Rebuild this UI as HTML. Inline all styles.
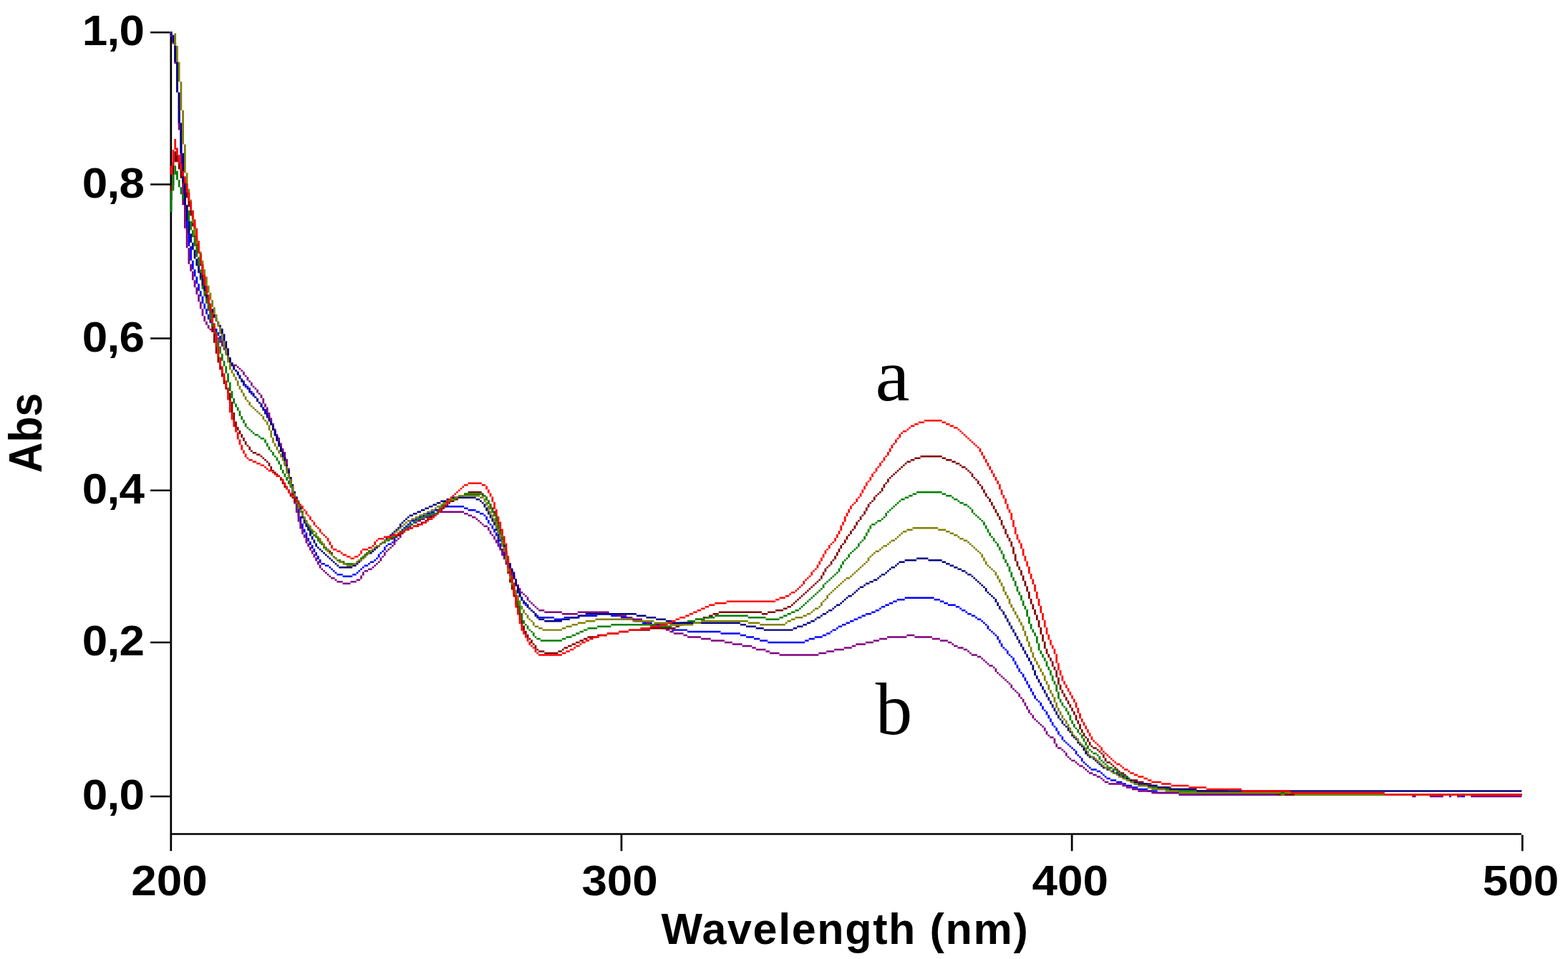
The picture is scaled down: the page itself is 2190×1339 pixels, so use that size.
<!DOCTYPE html>
<html lang="en">
<head>
<meta charset="utf-8">
<title>UV-Vis absorption spectra</title>
<style>
html,body{margin:0;padding:0;background:#fff;}
body{width:2190px;height:1339px;overflow:hidden;}
svg{display:block;}
text{fill:#000;}
.tk,.tkx,.lab,.abs{font-family:"Liberation Sans",sans-serif;font-weight:bold;}
.tk{font-size:60px;letter-spacing:-0.6px;}
.tkx{font-size:60px;letter-spacing:0px;}
.lab{font-size:61px;letter-spacing:1.65px;}
.abs{font-size:61px;letter-spacing:0px;}
.ser{font-family:"Liberation Serif",serif;font-size:103px;}
</style>
</head>
<body>
<svg width="2190" height="1339" viewBox="0 0 2190 1339">
<rect x="0" y="0" width="2190" height="1339" fill="#ffffff"/>

<g transform="translate(237.43,44.0) scale(2.7355,2.49813)">
<path fill="#000000" d="M0 1h1v457h-1zM1 448h689v1h-689zM230 449h1v9h-1zM460 449h1v9h-1zM690 449h1v9h-1zM-10 0h10v1h-10zM-10 85h10v1h-10zM-10 171h10v1h-10zM-10 256h10v1h-10zM-10 341h10v1h-10zM-10 427h10v1h-10z"/>
</g>
<g transform="translate(237.83,44.0) scale(2.7355,2.49813)">
<path fill="#0000ff" d="M0 1h1v1h-1zM1 2h1v4h-1zM2 6h1v11h-1zM3 17h1v17h-1zM4 34h1v18h-1zM5 52h1v17h-1zM6 69h1v16h-1zM7 85h1v15h-1zM8 100h1v11h-1zM9 111h1v9h-1zM10 120h1v8h-1zM11 128h1v5h-1zM12 133h1v4h-1zM13 137h1v4h-1zM14 141h1v4h-1zM15 145h1v3h-1zM16 148h1v4h-1zM17 152h1v3h-1zM18 155h1v3h-1zM19 158h1v3h-1zM20 161h1v2h-1zM21 163h1v2h-1zM22 165h1v1h-1zM23 166h1v2h-1zM24 168h1v2h-1zM25 170h1v2h-1zM26 172h1v2h-1zM27 174h1v2h-1zM28 176h1v4h-1zM29 180h1v3h-1zM30 183h1v2h-1zM31 185h1v2h-1zM32 187h1v2h-1zM33 189h1v1h-1zM34 190h1v2h-1zM35 192h1v2h-1zM36 194h1v1h-1zM37 195h1v2h-1zM38 197h1v1h-1zM39 198h1v1h-1zM40 199h1v2h-1zM41 201h1v1h-1zM42 202h1v2h-1zM43 204h1v1h-1zM44 205h1v2h-1zM45 207h1v1h-1zM46 208h1v2h-1zM47 210h1v1h-1zM48 211h1v2h-1zM49 213h1v2h-1zM50 215h1v2h-1zM51 217h1v3h-1zM52 220h1v3h-1zM53 223h1v3h-1zM54 226h1v3h-1zM55 229h1v3h-1zM56 232h1v3h-1zM57 235h1v3h-1zM58 238h1v4h-1zM59 242h1v3h-1zM60 245h1v4h-1zM61 249h1v5h-1zM62 254h1v5h-1zM63 259h1v4h-1zM64 263h1v4h-1zM65 267h1v4h-1zM66 271h1v4h-1zM67 275h1v3h-1zM68 278h1v2h-1zM69 280h1v3h-1zM70 283h1v2h-1zM71 285h1v2h-1zM72 287h1v2h-1zM73 289h1v2h-1zM74 291h1v2h-1zM75 293h1v2h-1zM76 295h1v2h-1zM77 297h2v1h-2zM79 298h2v1h-2zM81 299h1v1h-1zM82 300h1v1h-1zM83 301h1v1h-1zM84 302h1v1h-1zM85 303h3v1h-3zM88 304h5v1h-5zM93 303h2v1h-2zM95 302h1v1h-1zM96 301h1v1h-1zM97 300h1v1h-1zM98 299h1v1h-1zM99 298h2v1h-2zM101 297h1v1h-1zM102 296h2v1h-2zM104 295h1v1h-1zM105 294h1v1h-1zM106 292h1v2h-1zM107 291h1v1h-1zM108 290h1v1h-1zM109 288h1v2h-1zM110 287h1v1h-1zM111 286h2v1h-2zM113 285h1v1h-1zM114 283h1v2h-1zM115 282h1v1h-1zM116 281h1v1h-1zM117 279h1v2h-1zM118 278h1v1h-1zM119 277h1v1h-1zM120 276h1v1h-1zM121 275h1v1h-1zM122 274h1v1h-1zM123 273h2v1h-2zM125 272h1v1h-1zM126 271h2v1h-2zM128 270h2v1h-2zM130 269h3v1h-3zM133 268h2v1h-2zM135 267h3v1h-3zM138 266h2v1h-2zM140 265h10v1h-10zM150 266h2v1h-2zM152 267h4v1h-4zM156 268h2v1h-2zM158 269h2v1h-2zM160 270h1v1h-1zM161 271h1v2h-1zM162 273h1v2h-1zM163 275h1v1h-1zM164 276h1v2h-1zM165 278h1v2h-1zM166 280h1v2h-1zM167 282h1v4h-1zM168 286h1v3h-1zM169 289h1v2h-1zM170 291h1v2h-1zM171 293h1v2h-1zM172 295h1v3h-1zM173 298h1v3h-1zM174 301h1v3h-1zM175 304h1v2h-1zM176 306h1v3h-1zM177 309h1v4h-1zM178 313h1v3h-1zM179 316h1v2h-1zM180 318h1v2h-1zM181 320h1v1h-1zM182 321h1v1h-1zM183 322h1v1h-1zM184 323h1v1h-1zM185 324h1v1h-1zM186 325h1v1h-1zM187 326h1v1h-1zM188 327h8v1h-8zM196 328h5v1h-5zM201 327h8v1h-8zM209 326h9v1h-9zM218 325h7v1h-7zM225 326h5v1h-5zM230 327h4v1h-4zM234 328h3v1h-3zM237 329h4v1h-4zM241 330h5v1h-5zM246 331h4v1h-4zM250 332h3v1h-3zM253 333h3v1h-3zM256 334h8v1h-8zM264 335h17v1h-17zM281 336h10v1h-10zM291 337h3v1h-3zM294 338h4v1h-4zM298 339h3v1h-3zM301 340h4v1h-4zM305 341h19v1h-19zM324 340h2v1h-2zM326 339h3v1h-3zM329 338h4v1h-4zM333 337h2v1h-2zM335 336h2v1h-2zM337 335h1v1h-1zM338 334h2v1h-2zM340 333h1v1h-1zM341 332h2v1h-2zM343 331h2v1h-2zM345 330h2v1h-2zM347 329h2v1h-2zM349 328h2v1h-2zM351 327h2v1h-2zM353 326h2v1h-2zM355 325h3v1h-3zM358 324h2v1h-2zM360 323h2v1h-2zM362 322h1v1h-1zM363 321h2v1h-2zM365 320h2v1h-2zM367 319h2v1h-2zM369 318h2v1h-2zM371 317h4v1h-4zM375 316h15v1h-15zM390 317h3v1h-3zM393 318h2v1h-2zM395 319h2v1h-2zM397 320h4v1h-4zM401 321h2v1h-2zM403 322h1v1h-1zM404 323h2v1h-2zM406 324h1v1h-1zM407 325h2v1h-2zM409 326h2v1h-2zM411 327h1v1h-1zM412 328h2v1h-2zM414 329h1v1h-1zM415 330h1v1h-1zM416 331h1v1h-1zM417 332h1v2h-1zM418 334h1v1h-1zM419 335h1v1h-1zM420 336h1v1h-1zM421 337h1v1h-1zM422 338h1v2h-1zM423 340h1v2h-1zM424 342h1v2h-1zM425 344h1v1h-1zM426 345h1v1h-1zM427 346h1v2h-1zM428 348h1v1h-1zM429 349h1v1h-1zM430 350h1v2h-1zM431 352h1v2h-1zM432 354h1v2h-1zM433 356h1v2h-1zM434 358h1v1h-1zM435 359h1v2h-1zM436 361h1v2h-1zM437 363h1v2h-1zM438 365h1v2h-1zM439 367h1v2h-1zM440 369h1v2h-1zM441 371h1v2h-1zM442 373h1v1h-1zM443 374h1v1h-1zM444 375h1v2h-1zM445 377h1v2h-1zM446 379h1v1h-1zM447 380h1v2h-1zM448 382h1v2h-1zM449 384h1v2h-1zM450 386h1v2h-1zM451 388h1v1h-1zM452 389h1v2h-1zM453 391h1v2h-1zM454 393h1v1h-1zM455 394h1v2h-1zM456 396h1v1h-1zM457 397h1v1h-1zM458 398h1v1h-1zM459 399h1v1h-1zM460 400h1v1h-1zM461 401h1v1h-1zM462 402h1v2h-1zM463 404h1v1h-1zM464 405h1v1h-1zM465 406h1v2h-1zM466 408h1v1h-1zM467 409h1v1h-1zM468 410h1v1h-1zM469 411h1v1h-1zM470 412h3v1h-3zM473 413h2v1h-2zM475 414h1v1h-1zM476 415h1v1h-1zM477 416h1v1h-1zM478 417h2v1h-2zM480 418h3v1h-3zM483 419h3v1h-3zM486 420h2v1h-2zM488 421h3v1h-3zM491 422h3v1h-3zM494 423h5v1h-5zM499 424h5v1h-5zM504 425h11v1h-11zM515 426h138v1h-138zM653 427h1v1h-1zM654 426h5v1h-5zM659 427h2v1h-2zM661 426h29v1h-29z"/>
<path fill="#800080" d="M0 1h1v2h-1zM1 3h1v4h-1zM2 7h1v11h-1zM3 18h1v16h-1zM4 34h1v21h-1zM5 55h1v23h-1zM6 78h1v19h-1zM7 97h1v13h-1zM8 110h1v11h-1zM9 121h1v9h-1zM10 130h1v4h-1zM11 134h1v5h-1zM12 139h1v4h-1zM13 143h1v4h-1zM14 147h1v4h-1zM15 151h1v4h-1zM16 155h1v4h-1zM17 159h1v3h-1zM18 162h1v2h-1zM19 164h1v2h-1zM20 166h1v1h-1zM21 167h1v1h-1zM22 168h1v2h-1zM23 170h1v1h-1zM24 171h1v1h-1zM25 172h1v2h-1zM26 174h1v2h-1zM27 176h1v2h-1zM28 178h1v2h-1zM29 180h1v3h-1zM30 183h1v2h-1zM31 185h1v1h-1zM32 186h2v1h-2zM34 187h1v1h-1zM35 188h1v1h-1zM36 189h1v1h-1zM37 190h1v2h-1zM38 192h1v1h-1zM39 193h1v2h-1zM40 195h1v1h-1zM41 196h1v2h-1zM42 198h1v1h-1zM43 199h1v1h-1zM44 200h1v2h-1zM45 202h1v1h-1zM46 203h1v2h-1zM47 205h1v3h-1zM48 208h1v2h-1zM49 210h1v3h-1zM50 213h1v3h-1zM51 216h1v3h-1zM52 219h1v3h-1zM53 222h1v3h-1zM54 225h1v2h-1zM55 227h1v3h-1zM56 230h1v3h-1zM57 233h1v2h-1zM58 235h1v4h-1zM59 239h1v5h-1zM60 244h1v5h-1zM61 249h1v5h-1zM62 254h1v5h-1zM63 259h1v5h-1zM64 264h1v5h-1zM65 269h1v5h-1zM66 274h1v4h-1zM67 278h1v3h-1zM68 281h1v2h-1zM69 283h1v3h-1zM70 286h1v2h-1zM71 288h1v2h-1zM72 290h1v2h-1zM73 292h1v2h-1zM74 294h1v2h-1zM75 296h1v2h-1zM76 298h1v2h-1zM77 300h1v1h-1zM78 301h1v1h-1zM79 302h1v1h-1zM80 303h1v1h-1zM81 304h1v1h-1zM82 305h2v1h-2zM84 306h1v1h-1zM85 307h3v1h-3zM88 308h4v1h-4zM92 307h3v1h-3zM95 306h2v1h-2zM97 304h1v2h-1zM98 302h1v2h-1zM99 301h2v1h-2zM101 300h2v1h-2zM103 299h1v1h-1zM104 298h1v1h-1zM105 297h1v1h-1zM106 296h1v1h-1zM107 294h1v2h-1zM108 293h1v1h-1zM109 291h1v2h-1zM110 290h1v1h-1zM111 289h1v1h-1zM112 288h1v1h-1zM113 287h1v1h-1zM114 285h1v2h-1zM115 284h1v1h-1zM116 283h1v1h-1zM117 281h1v2h-1zM118 280h1v1h-1zM119 279h1v1h-1zM120 278h1v1h-1zM121 277h1v1h-1zM122 276h1v1h-1zM123 275h1v1h-1zM124 274h2v1h-2zM126 273h2v1h-2zM128 272h2v1h-2zM130 271h2v1h-2zM132 270h2v1h-2zM134 269h3v1h-3zM137 268h13v1h-13zM150 269h2v1h-2zM152 270h2v1h-2zM154 271h2v1h-2zM156 272h1v1h-1zM157 273h1v1h-1zM158 274h1v1h-1zM159 275h1v1h-1zM160 276h2v1h-2zM162 277h1v2h-1zM163 279h1v2h-1zM164 281h1v1h-1zM165 282h1v2h-1zM166 284h1v2h-1zM167 286h1v2h-1zM168 288h1v2h-1zM169 290h1v3h-1zM170 293h1v2h-1zM171 295h1v3h-1zM172 298h1v2h-1zM173 300h1v2h-1zM174 302h1v2h-1zM175 304h1v2h-1zM176 306h1v3h-1zM177 309h1v2h-1zM178 311h1v2h-1zM179 313h1v1h-1zM180 314h1v1h-1zM181 315h1v1h-1zM182 316h1v2h-1zM183 318h1v1h-1zM184 319h1v1h-1zM185 320h1v1h-1zM186 321h1v1h-1zM187 322h1v1h-1zM188 323h3v1h-3zM191 324h9v1h-9zM200 325h8v1h-8zM208 324h16v1h-16zM224 325h4v1h-4zM228 326h5v1h-5zM233 327h3v1h-3zM236 328h5v1h-5zM241 329h2v1h-2zM243 330h2v1h-2zM245 331h4v1h-4zM249 332h2v1h-2zM251 333h2v1h-2zM253 334h2v1h-2zM255 335h2v1h-2zM257 336h5v1h-5zM262 337h2v1h-2zM264 338h7v1h-7zM271 339h5v1h-5zM276 340h7v1h-7zM283 341h4v1h-4zM287 342h5v1h-5zM292 343h5v1h-5zM297 344h2v1h-2zM299 345h5v1h-5zM304 346h2v1h-2zM306 347h5v1h-5zM311 348h20v1h-20zM331 347h4v1h-4zM335 346h4v1h-4zM339 345h5v1h-5zM344 344h4v1h-4zM348 343h2v1h-2zM350 342h5v1h-5zM355 341h4v1h-4zM359 340h3v1h-3zM362 339h4v1h-4zM366 338h10v1h-10zM376 337h4v1h-4zM380 338h9v1h-9zM389 339h4v1h-4zM393 340h4v1h-4zM397 341h2v1h-2zM399 342h1v1h-1zM400 343h2v1h-2zM402 344h3v1h-3zM405 345h2v1h-2zM407 346h1v1h-1zM408 347h1v1h-1zM409 348h3v1h-3zM412 349h2v1h-2zM414 350h1v1h-1zM415 351h1v1h-1zM416 352h1v1h-1zM417 353h1v1h-1zM418 354h2v1h-2zM420 355h1v1h-1zM421 356h1v2h-1zM422 358h1v1h-1zM423 359h1v1h-1zM424 360h1v1h-1zM425 361h1v1h-1zM426 362h1v1h-1zM427 363h1v1h-1zM428 364h1v1h-1zM429 365h1v2h-1zM430 367h1v1h-1zM431 368h1v1h-1zM432 369h1v1h-1zM433 370h1v2h-1zM434 372h1v1h-1zM435 373h1v2h-1zM436 375h1v2h-1zM437 377h1v2h-1zM438 379h1v2h-1zM439 381h1v1h-1zM440 382h1v2h-1zM441 384h1v1h-1zM442 385h1v1h-1zM443 386h1v1h-1zM444 387h1v1h-1zM445 388h1v1h-1zM446 389h1v2h-1zM447 391h1v2h-1zM448 393h1v1h-1zM449 394h2v1h-2zM451 395h1v3h-1zM452 398h1v2h-1zM453 400h2v1h-2zM455 401h1v1h-1zM456 402h1v1h-1zM457 403h1v2h-1zM458 405h1v1h-1zM459 406h1v1h-1zM460 407h2v1h-2zM462 408h1v1h-1zM463 409h1v1h-1zM464 410h2v1h-2zM466 411h1v1h-1zM467 412h1v1h-1zM468 413h1v1h-1zM469 414h2v1h-2zM471 415h2v1h-2zM473 416h2v1h-2zM475 417h1v1h-1zM476 418h1v1h-1zM477 419h2v1h-2zM479 420h7v1h-7zM486 421h2v1h-2zM488 422h3v1h-3zM491 423h3v1h-3zM494 424h7v1h-7zM501 425h14v1h-14zM515 426h119v1h-119zM634 427h2v1h-2zM636 426h7v1h-7zM643 427h7v1h-7zM650 426h7v1h-7zM657 427h2v1h-2zM659 426h5v1h-5zM664 427h26v1h-26z"/>
<path fill="#800000" d="M0 86h1v8h-1zM1 73h1v13h-1zM2 67h1v6h-1zM3 69h1v4h-1zM4 73h1v4h-1zM5 77h1v5h-1zM6 82h1v3h-1zM7 85h1v3h-1zM8 88h1v5h-1zM9 93h1v5h-1zM10 98h1v5h-1zM11 103h1v6h-1zM12 109h1v6h-1zM13 115h1v5h-1zM14 120h1v4h-1zM15 124h1v7h-1zM16 131h1v8h-1zM17 139h1v6h-1zM18 145h1v6h-1zM19 151h1v5h-1zM20 156h1v6h-1zM21 162h1v6h-1zM22 168h1v6h-1zM23 174h1v6h-1zM24 180h1v5h-1zM25 185h1v4h-1zM26 189h1v4h-1zM27 193h1v4h-1zM28 197h1v3h-1zM29 200h1v2h-1zM30 202h1v5h-1zM31 207h1v6h-1zM32 213h1v5h-1zM33 218h1v3h-1zM34 221h1v2h-1zM35 223h1v2h-1zM36 225h1v2h-1zM37 227h1v2h-1zM38 229h1v2h-1zM39 231h1v1h-1zM40 232h1v2h-1zM41 234h1v1h-1zM42 235h2v1h-2zM44 236h2v1h-2zM46 237h1v1h-1zM47 238h1v1h-1zM48 239h1v1h-1zM49 240h1v1h-1zM50 241h1v2h-1zM51 243h1v2h-1zM52 245h1v1h-1zM53 246h1v1h-1zM54 247h1v1h-1zM55 248h1v1h-1zM56 249h1v2h-1zM57 251h1v2h-1zM58 253h1v2h-1zM59 255h1v1h-1zM60 256h1v2h-1zM61 258h1v2h-1zM62 260h1v1h-1zM63 261h1v2h-1zM64 263h1v1h-1zM65 264h1v2h-1zM66 266h1v2h-1zM67 268h1v4h-1zM68 272h1v2h-1zM69 274h1v2h-1zM70 276h1v2h-1zM71 278h1v1h-1zM72 279h1v2h-1zM73 281h1v1h-1zM74 282h1v1h-1zM75 283h1v1h-1zM76 284h1v2h-1zM77 286h1v1h-1zM78 287h1v1h-1zM79 288h1v1h-1zM80 289h1v1h-1zM81 290h1v1h-1zM82 291h1v2h-1zM83 293h1v1h-1zM84 294h1v1h-1zM85 295h2v1h-2zM87 296h2v1h-2zM89 297h6v1h-6zM95 296h1v1h-1zM96 295h1v1h-1zM97 294h1v1h-1zM98 293h1v1h-1zM99 292h1v1h-1zM100 291h1v1h-1zM101 290h2v1h-2zM103 289h1v1h-1zM104 288h1v1h-1zM105 287h2v1h-2zM107 286h1v1h-1zM108 285h2v1h-2zM110 284h2v1h-2zM112 283h2v1h-2zM114 282h2v1h-2zM116 281h1v1h-1zM117 280h2v1h-2zM119 279h1v1h-1zM120 278h2v1h-2zM122 277h2v1h-2zM124 276h2v1h-2zM126 275h2v1h-2zM128 274h2v1h-2zM130 273h1v1h-1zM131 272h1v1h-1zM132 271h2v1h-2zM134 270h1v1h-1zM135 269h1v1h-1zM136 268h2v1h-2zM138 267h1v1h-1zM139 266h1v1h-1zM140 265h1v1h-1zM141 264h1v1h-1zM142 263h1v1h-1zM143 262h2v1h-2zM145 261h2v1h-2zM147 260h1v1h-1zM148 259h2v1h-2zM150 258h2v1h-2zM152 257h7v1h-7zM159 258h1v1h-1zM160 259h1v1h-1zM161 260h1v2h-1zM162 262h1v2h-1zM163 264h1v2h-1zM164 266h1v2h-1zM165 268h1v2h-1zM166 270h1v4h-1zM167 274h1v4h-1zM168 278h1v5h-1zM169 283h1v4h-1zM170 287h1v4h-1zM171 291h1v5h-1zM172 296h1v7h-1zM173 303h1v5h-1zM174 308h1v4h-1zM175 312h1v4h-1zM176 316h1v4h-1zM177 320h1v5h-1zM178 325h1v4h-1zM179 329h1v3h-1zM180 332h1v3h-1zM181 335h1v2h-1zM182 337h1v2h-1zM183 339h1v1h-1zM184 340h1v2h-1zM185 342h1v1h-1zM186 343h1v2h-1zM187 345h1v1h-1zM188 346h3v1h-3zM191 347h7v1h-7zM198 346h2v1h-2zM200 345h1v1h-1zM201 344h2v1h-2zM203 343h2v1h-2zM205 342h2v1h-2zM207 341h2v1h-2zM209 340h2v1h-2zM211 339h2v1h-2zM213 338h5v1h-5zM218 337h5v1h-5zM223 336h6v1h-6zM229 335h5v1h-5zM234 334h11v1h-11zM245 333h13v1h-13zM258 332h2v1h-2zM260 331h2v1h-2zM262 330h3v1h-3zM265 329h3v1h-3zM268 328h4v1h-4zM272 327h3v1h-3zM275 326h2v1h-2zM277 325h3v1h-3zM280 324h22v1h-22zM302 325h3v1h-3zM305 324h4v1h-4zM309 323h4v1h-4zM313 322h2v1h-2zM315 321h2v1h-2zM317 320h1v1h-1zM318 319h1v1h-1zM319 318h1v1h-1zM320 317h1v1h-1zM321 316h1v1h-1zM322 315h1v1h-1zM323 314h1v1h-1zM324 313h1v1h-1zM325 312h1v1h-1zM326 311h1v1h-1zM327 310h1v1h-1zM328 309h1v1h-1zM329 308h1v1h-1zM330 307h1v1h-1zM331 306h1v1h-1zM332 304h1v2h-1zM333 302h1v2h-1zM334 300h1v2h-1zM335 299h1v1h-1zM336 298h1v1h-1zM337 296h1v2h-1zM338 295h1v1h-1zM339 293h1v2h-1zM340 291h1v2h-1zM341 289h1v2h-1zM342 287h1v2h-1zM343 286h1v1h-1zM344 284h1v2h-1zM345 282h1v2h-1zM346 281h1v1h-1zM347 279h1v2h-1zM348 278h1v1h-1zM349 276h1v2h-1zM350 274h1v2h-1zM351 273h1v1h-1zM352 271h1v2h-1zM353 270h1v1h-1zM354 268h1v2h-1zM355 266h1v2h-1zM356 264h1v2h-1zM357 263h1v1h-1zM358 262h1v1h-1zM359 260h1v2h-1zM360 259h1v1h-1zM361 258h1v1h-1zM362 257h1v1h-1zM363 255h1v2h-1zM364 253h1v2h-1zM365 252h1v1h-1zM366 250h1v2h-1zM367 249h1v1h-1zM368 248h1v1h-1zM369 247h1v1h-1zM370 246h1v1h-1zM371 245h1v1h-1zM372 244h1v1h-1zM373 243h1v1h-1zM374 242h1v1h-1zM375 241h1v1h-1zM376 240h2v1h-2zM378 239h2v1h-2zM380 238h3v1h-3zM383 237h11v1h-11zM394 238h2v1h-2zM396 239h3v1h-3zM399 240h2v1h-2zM401 241h2v1h-2zM403 242h1v1h-1zM404 243h2v1h-2zM406 244h1v1h-1zM407 245h1v1h-1zM408 246h1v1h-1zM409 247h1v2h-1zM410 249h1v1h-1zM411 250h1v1h-1zM412 251h1v2h-1zM413 253h1v1h-1zM414 254h1v2h-1zM415 256h1v2h-1zM416 258h1v2h-1zM417 260h1v1h-1zM418 261h1v2h-1zM419 263h1v2h-1zM420 265h1v2h-1zM421 267h1v2h-1zM422 269h1v2h-1zM423 271h1v2h-1zM424 273h1v3h-1zM425 276h1v2h-1zM426 278h1v3h-1zM427 281h1v2h-1zM428 283h1v2h-1zM429 285h1v3h-1zM430 288h1v4h-1zM431 292h1v4h-1zM432 296h1v3h-1zM433 299h1v2h-1zM434 301h1v3h-1zM435 304h1v3h-1zM436 307h1v3h-1zM437 310h1v3h-1zM438 313h1v4h-1zM439 317h1v3h-1zM440 320h1v3h-1zM441 323h1v3h-1zM442 326h1v3h-1zM443 329h1v4h-1zM444 333h1v4h-1zM445 337h1v4h-1zM446 341h1v4h-1zM447 345h1v3h-1zM448 348h1v2h-1zM449 350h1v2h-1zM450 352h1v3h-1zM451 355h1v2h-1zM452 357h1v4h-1zM453 361h1v4h-1zM454 365h1v3h-1zM455 368h1v2h-1zM456 370h1v2h-1zM457 372h1v2h-1zM458 374h1v2h-1zM459 376h1v2h-1zM460 378h1v2h-1zM461 380h1v2h-1zM462 382h1v3h-1zM463 385h1v2h-1zM464 387h1v3h-1zM465 390h1v2h-1zM466 392h1v2h-1zM467 394h1v1h-1zM468 395h1v2h-1zM469 397h1v2h-1zM470 399h1v1h-1zM471 400h2v1h-2zM473 401h1v1h-1zM474 402h1v1h-1zM475 403h1v1h-1zM476 404h1v2h-1zM477 406h1v2h-1zM478 408h2v1h-2zM480 409h1v1h-1zM481 410h1v1h-1zM482 411h1v1h-1zM483 412h1v1h-1zM484 413h1v1h-1zM485 414h2v1h-2zM487 415h1v1h-1zM488 416h1v1h-1zM489 417h1v1h-1zM490 418h4v1h-4zM494 419h3v1h-3zM497 420h4v1h-4zM501 421h3v1h-3zM504 422h7v1h-7zM511 423h13v1h-13zM524 424h16v1h-16zM540 425h25v1h-25zM565 426h125v1h-125z"/>
<path fill="#008000" d="M0 89h1v12h-1zM1 80h1v9h-1zM2 75h1v5h-1zM3 78h1v5h-1zM4 83h1v4h-1zM5 87h1v4h-1zM6 91h1v3h-1zM7 94h1v3h-1zM8 97h1v3h-1zM9 100h1v6h-1zM10 106h1v5h-1zM11 111h1v4h-1zM12 115h1v5h-1zM13 120h1v6h-1zM14 126h1v7h-1zM15 133h1v6h-1zM16 139h1v5h-1zM17 144h1v4h-1zM18 148h1v4h-1zM19 152h1v4h-1zM20 156h1v5h-1zM21 161h1v4h-1zM22 165h1v3h-1zM23 168h1v4h-1zM24 172h1v4h-1zM25 176h1v4h-1zM26 180h1v4h-1zM27 184h1v3h-1zM28 187h1v4h-1zM29 191h1v5h-1zM30 196h1v5h-1zM31 201h1v4h-1zM32 205h1v3h-1zM33 208h1v2h-1zM34 210h1v2h-1zM35 212h1v3h-1zM36 215h1v2h-1zM37 217h1v2h-1zM38 219h1v2h-1zM39 221h1v1h-1zM40 222h1v1h-1zM41 223h1v1h-1zM42 224h1v1h-1zM43 225h2v1h-2zM45 226h1v1h-1zM46 227h2v1h-2zM48 228h1v2h-1zM49 230h1v2h-1zM50 232h1v2h-1zM51 234h1v1h-1zM52 235h1v2h-1zM53 237h1v1h-1zM54 238h1v2h-1zM55 240h1v2h-1zM56 242h1v3h-1zM57 245h1v2h-1zM58 247h1v2h-1zM59 249h1v2h-1zM60 251h1v2h-1zM61 253h1v2h-1zM62 255h1v2h-1zM63 257h1v3h-1zM64 260h1v2h-1zM65 262h1v3h-1zM66 265h1v3h-1zM67 268h1v3h-1zM68 271h1v2h-1zM69 273h1v2h-1zM70 275h1v2h-1zM71 277h1v2h-1zM72 279h1v2h-1zM73 281h1v1h-1zM74 282h1v1h-1zM75 283h1v2h-1zM76 285h1v1h-1zM77 286h1v1h-1zM78 287h1v2h-1zM79 289h1v1h-1zM80 290h1v1h-1zM81 291h1v1h-1zM82 292h1v1h-1zM83 293h1v1h-1zM84 294h1v1h-1zM85 295h2v1h-2zM87 296h2v1h-2zM89 297h6v1h-6zM95 296h1v1h-1zM96 295h1v1h-1zM97 294h1v1h-1zM98 293h1v1h-1zM99 292h1v1h-1zM100 291h1v1h-1zM101 290h2v1h-2zM103 289h1v1h-1zM104 288h1v1h-1zM105 287h2v1h-2zM107 286h1v1h-1zM108 285h2v1h-2zM110 284h2v1h-2zM112 283h1v1h-1zM113 282h2v1h-2zM115 281h1v1h-1zM116 280h1v1h-1zM117 279h2v1h-2zM119 278h1v1h-1zM120 277h1v1h-1zM121 276h1v1h-1zM122 275h2v1h-2zM124 274h1v1h-1zM125 273h1v1h-1zM126 272h2v1h-2zM128 271h2v1h-2zM130 270h3v1h-3zM133 269h3v1h-3zM136 268h1v1h-1zM137 266h1v2h-1zM138 265h1v1h-1zM139 264h1v1h-1zM140 263h2v1h-2zM142 262h1v1h-1zM143 261h3v1h-3zM146 260h2v1h-2zM148 259h2v1h-2zM150 258h9v1h-9zM159 259h2v1h-2zM161 260h1v2h-1zM162 262h1v2h-1zM163 264h1v3h-1zM164 267h1v2h-1zM165 269h1v2h-1zM166 271h1v4h-1zM167 275h1v4h-1zM168 279h1v3h-1zM169 282h1v4h-1zM170 286h1v4h-1zM171 290h1v5h-1zM172 295h1v6h-1zM173 301h1v5h-1zM174 306h1v4h-1zM175 310h1v3h-1zM176 313h1v4h-1zM177 317h1v4h-1zM178 321h1v4h-1zM179 325h1v4h-1zM180 329h1v2h-1zM181 331h1v1h-1zM182 332h1v2h-1zM183 334h1v1h-1zM184 335h1v1h-1zM185 336h1v2h-1zM186 338h1v1h-1zM187 339h2v1h-2zM189 340h11v1h-11zM200 339h2v1h-2zM202 338h3v1h-3zM205 337h2v1h-2zM207 336h2v1h-2zM209 335h2v1h-2zM211 334h2v1h-2zM213 333h5v1h-5zM218 332h7v1h-7zM225 331h23v1h-23zM248 332h8v1h-8zM256 331h4v1h-4zM260 330h4v1h-4zM264 329h4v1h-4zM268 328h5v1h-5zM273 327h5v1h-5zM278 326h17v1h-17zM295 327h9v1h-9zM304 328h7v1h-7zM311 327h2v1h-2zM313 326h2v1h-2zM315 325h2v1h-2zM317 324h2v1h-2zM319 323h2v1h-2zM321 322h1v1h-1zM322 321h1v1h-1zM323 320h1v1h-1zM324 319h1v1h-1zM325 318h1v1h-1zM326 317h1v1h-1zM327 316h1v1h-1zM328 315h1v1h-1zM329 314h1v1h-1zM330 313h1v1h-1zM331 312h1v1h-1zM332 311h1v1h-1zM333 309h1v2h-1zM334 308h1v1h-1zM335 307h1v1h-1zM336 306h1v1h-1zM337 305h1v1h-1zM338 304h1v1h-1zM339 303h1v1h-1zM340 302h1v1h-1zM341 300h1v2h-1zM342 298h1v2h-1zM343 296h1v2h-1zM344 295h1v1h-1zM345 294h1v1h-1zM346 292h1v2h-1zM347 291h1v1h-1zM348 290h1v1h-1zM349 289h1v1h-1zM350 288h1v1h-1zM351 286h1v2h-1zM352 285h1v1h-1zM353 284h1v1h-1zM354 282h1v2h-1zM355 280h1v2h-1zM356 278h1v2h-1zM357 276h1v2h-1zM358 275h2v1h-2zM360 274h1v1h-1zM361 273h2v1h-2zM363 272h1v1h-1zM364 271h1v1h-1zM365 269h1v2h-1zM366 268h1v1h-1zM367 267h1v1h-1zM368 266h1v1h-1zM369 265h1v1h-1zM370 264h1v1h-1zM371 263h1v1h-1zM372 262h1v1h-1zM373 261h2v1h-2zM375 260h2v1h-2zM377 259h2v1h-2zM379 258h2v1h-2zM381 257h13v1h-13zM394 258h2v1h-2zM396 259h3v1h-3zM399 260h1v1h-1zM400 261h2v1h-2zM402 262h1v1h-1zM403 263h2v1h-2zM405 264h2v1h-2zM407 265h1v1h-1zM408 266h1v1h-1zM409 267h1v2h-1zM410 269h1v1h-1zM411 270h1v1h-1zM412 271h1v1h-1zM413 272h1v1h-1zM414 273h1v1h-1zM415 274h1v2h-1zM416 276h1v2h-1zM417 278h1v2h-1zM418 280h1v2h-1zM419 282h1v1h-1zM420 283h1v2h-1zM421 285h1v1h-1zM422 286h1v2h-1zM423 288h1v2h-1zM424 290h1v2h-1zM425 292h1v3h-1zM426 295h1v2h-1zM427 297h1v2h-1zM428 299h1v3h-1zM429 302h1v3h-1zM430 305h1v2h-1zM431 307h1v3h-1zM432 310h1v3h-1zM433 313h1v2h-1zM434 315h1v3h-1zM435 318h1v3h-1zM436 321h1v2h-1zM437 323h1v4h-1zM438 327h1v4h-1zM439 331h1v3h-1zM440 334h1v2h-1zM441 336h1v2h-1zM442 338h1v4h-1zM443 342h1v4h-1zM444 346h1v2h-1zM445 348h1v2h-1zM446 350h1v2h-1zM447 352h1v3h-1zM448 355h1v2h-1zM449 357h1v3h-1zM450 360h1v3h-1zM451 363h1v2h-1zM452 365h1v4h-1zM453 369h1v4h-1zM454 373h1v2h-1zM455 375h1v2h-1zM456 377h1v1h-1zM457 378h1v2h-1zM458 380h1v2h-1zM459 382h1v3h-1zM460 385h1v2h-1zM461 387h1v2h-1zM462 389h1v1h-1zM463 390h1v2h-1zM464 392h1v1h-1zM465 393h1v2h-1zM466 395h1v2h-1zM467 397h1v2h-1zM468 399h1v2h-1zM469 401h1v1h-1zM470 402h1v1h-1zM471 403h2v1h-2zM473 404h1v1h-1zM474 405h1v2h-1zM475 407h1v1h-1zM476 408h1v1h-1zM477 409h1v1h-1zM478 410h1v1h-1zM479 411h2v1h-2zM481 412h2v1h-2zM483 413h1v1h-1zM484 414h1v1h-1zM485 415h2v1h-2zM487 416h2v1h-2zM489 417h1v1h-1zM490 418h1v1h-1zM491 419h1v1h-1zM492 420h2v1h-2zM494 421h5v1h-5zM499 422h5v1h-5zM504 423h6v1h-6zM510 424h14v1h-14zM524 425h50v1h-50zM574 426h116v1h-116z"/>
<path fill="#000080" d="M0 0h1v2h-1zM1 2h1v4h-1zM2 6h1v11h-1zM3 17h1v17h-1zM4 34h1v17h-1zM5 51h1v17h-1zM6 68h1v16h-1zM7 84h1v13h-1zM8 97h1v9h-1zM9 106h1v7h-1zM10 113h1v5h-1zM11 118h1v4h-1zM12 122h1v5h-1zM13 127h1v4h-1zM14 131h1v4h-1zM15 135h1v3h-1zM16 138h1v4h-1zM17 142h1v3h-1zM18 145h1v4h-1zM19 149h1v3h-1zM20 152h1v3h-1zM21 155h1v3h-1zM22 158h1v2h-1zM23 160h1v2h-1zM24 162h1v2h-1zM25 164h1v2h-1zM26 166h1v3h-1zM27 169h1v4h-1zM28 173h1v4h-1zM29 177h1v5h-1zM30 182h1v3h-1zM31 185h1v2h-1zM32 187h1v2h-1zM33 189h1v1h-1zM34 190h1v2h-1zM35 192h1v2h-1zM36 194h1v2h-1zM37 196h1v2h-1zM38 198h1v1h-1zM39 199h1v1h-1zM40 200h1v2h-1zM41 202h1v1h-1zM42 203h1v1h-1zM43 204h1v1h-1zM44 205h1v2h-1zM45 207h1v1h-1zM46 208h1v2h-1zM47 210h1v2h-1zM48 212h1v2h-1zM49 214h1v2h-1zM50 216h1v2h-1zM51 218h1v2h-1zM52 220h1v3h-1zM53 223h1v3h-1zM54 226h1v3h-1zM55 229h1v3h-1zM56 232h1v3h-1zM57 235h1v3h-1zM58 238h1v4h-1zM59 242h1v3h-1zM60 245h1v4h-1zM61 249h1v4h-1zM62 253h1v4h-1zM63 257h1v3h-1zM64 260h1v3h-1zM65 263h1v3h-1zM66 266h1v3h-1zM67 269h1v3h-1zM68 272h1v3h-1zM69 275h1v2h-1zM70 277h1v2h-1zM71 279h1v3h-1zM72 282h1v2h-1zM73 284h1v2h-1zM74 286h1v2h-1zM75 288h1v1h-1zM76 289h1v1h-1zM77 290h1v1h-1zM78 291h1v1h-1zM79 292h1v1h-1zM80 293h1v1h-1zM81 294h1v1h-1zM82 295h1v1h-1zM83 296h1v1h-1zM84 297h1v1h-1zM85 298h1v1h-1zM86 299h7v1h-7zM93 298h2v1h-2zM95 297h1v1h-1zM96 296h1v1h-1zM97 295h1v1h-1zM98 294h1v1h-1zM99 293h1v1h-1zM100 292h1v1h-1zM101 291h2v1h-2zM103 290h1v1h-1zM104 289h1v1h-1zM105 288h1v1h-1zM106 287h1v1h-1zM107 286h1v1h-1zM108 285h1v1h-1zM109 284h1v1h-1zM110 283h1v1h-1zM111 282h1v1h-1zM112 281h1v1h-1zM113 280h1v1h-1zM114 279h1v1h-1zM115 278h1v1h-1zM116 277h1v1h-1zM117 275h1v2h-1zM118 274h1v1h-1zM119 273h1v1h-1zM120 272h1v1h-1zM121 271h1v1h-1zM122 270h2v1h-2zM124 269h2v1h-2zM126 268h2v1h-2zM128 267h2v1h-2zM130 266h2v1h-2zM132 265h2v1h-2zM134 264h2v1h-2zM136 263h2v1h-2zM138 262h3v1h-3zM141 261h2v1h-2zM143 260h13v1h-13zM156 261h2v1h-2zM158 262h1v1h-1zM159 263h1v1h-1zM160 264h1v2h-1zM161 266h1v2h-1zM162 268h1v2h-1zM163 270h1v2h-1zM164 272h1v2h-1zM165 274h1v2h-1zM166 276h1v3h-1zM167 279h1v3h-1zM168 282h1v3h-1zM169 285h1v2h-1zM170 287h1v3h-1zM171 290h1v4h-1zM172 294h1v3h-1zM173 297h1v3h-1zM174 300h1v2h-1zM175 302h1v4h-1zM176 306h1v4h-1zM177 310h1v4h-1zM178 314h1v2h-1zM179 316h1v2h-1zM180 318h1v1h-1zM181 319h1v1h-1zM182 320h1v2h-1zM183 322h1v1h-1zM184 323h1v1h-1zM185 324h1v1h-1zM186 325h1v2h-1zM187 327h1v1h-1zM188 328h3v1h-3zM191 329h9v1h-9zM200 328h4v1h-4zM204 327h4v1h-4zM208 326h4v1h-4zM212 325h26v1h-26zM238 326h5v1h-5zM243 327h5v1h-5zM248 328h5v1h-5zM253 329h3v1h-3zM256 330h35v1h-35zM291 331h3v1h-3zM294 332h5v1h-5zM299 333h4v1h-4zM303 334h15v1h-15zM318 333h2v1h-2zM320 332h3v1h-3zM323 331h2v1h-2zM325 330h2v1h-2zM327 329h2v1h-2zM329 328h1v1h-1zM330 327h2v1h-2zM332 326h1v1h-1zM333 325h2v1h-2zM335 324h1v1h-1zM336 323h2v1h-2zM338 322h1v1h-1zM339 321h1v1h-1zM340 320h2v1h-2zM342 319h1v1h-1zM343 318h1v1h-1zM344 317h1v1h-1zM345 316h1v1h-1zM346 315h2v1h-2zM348 314h1v1h-1zM349 313h1v1h-1zM350 312h1v1h-1zM351 311h1v1h-1zM352 310h2v1h-2zM354 309h1v1h-1zM355 308h2v1h-2zM357 307h2v1h-2zM359 306h2v1h-2zM361 305h1v1h-1zM362 304h1v1h-1zM363 303h2v1h-2zM365 302h1v1h-1zM366 301h1v1h-1zM367 300h1v1h-1zM368 299h2v1h-2zM370 298h1v1h-1zM371 297h1v1h-1zM372 296h3v1h-3zM375 295h6v1h-6zM381 294h6v1h-6zM387 295h7v1h-7zM394 296h2v1h-2zM396 297h2v1h-2zM398 298h2v1h-2zM400 299h2v1h-2zM402 300h2v1h-2zM404 301h2v1h-2zM406 302h1v1h-1zM407 303h2v1h-2zM409 304h1v1h-1zM410 305h1v1h-1zM411 306h1v1h-1zM412 307h1v1h-1zM413 308h1v1h-1zM414 309h1v1h-1zM415 310h1v1h-1zM416 311h1v2h-1zM417 313h1v1h-1zM418 314h1v1h-1zM419 315h1v1h-1zM420 316h1v1h-1zM421 317h1v2h-1zM422 319h1v2h-1zM423 321h1v2h-1zM424 323h1v1h-1zM425 324h1v2h-1zM426 326h1v2h-1zM427 328h1v2h-1zM428 330h1v2h-1zM429 332h1v2h-1zM430 334h1v2h-1zM431 336h1v2h-1zM432 338h1v2h-1zM433 340h1v2h-1zM434 342h1v2h-1zM435 344h1v2h-1zM436 346h1v2h-1zM437 348h1v2h-1zM438 350h1v2h-1zM439 352h1v2h-1zM440 354h1v3h-1zM441 357h1v3h-1zM442 360h1v2h-1zM443 362h1v2h-1zM444 364h1v2h-1zM445 366h1v2h-1zM446 368h1v2h-1zM447 370h1v2h-1zM448 372h1v2h-1zM449 374h1v2h-1zM450 376h1v2h-1zM451 378h1v2h-1zM452 380h1v2h-1zM453 382h1v2h-1zM454 384h1v1h-1zM455 385h1v2h-1zM456 387h1v1h-1zM457 388h1v1h-1zM458 389h1v2h-1zM459 391h1v1h-1zM460 392h1v2h-1zM461 394h1v1h-1zM462 395h1v1h-1zM463 396h1v2h-1zM464 398h1v1h-1zM465 399h1v1h-1zM466 400h1v2h-1zM467 402h1v2h-1zM468 404h1v1h-1zM469 405h2v1h-2zM471 406h1v1h-1zM472 407h1v1h-1zM473 408h1v1h-1zM474 409h1v1h-1zM475 410h1v1h-1zM476 411h2v1h-2zM478 412h2v1h-2zM480 413h2v1h-2zM482 414h2v1h-2zM484 415h1v1h-1zM485 416h2v1h-2zM487 417h2v1h-2zM489 418h2v1h-2zM491 419h3v1h-3zM494 420h5v1h-5zM499 421h5v1h-5zM504 422h6v1h-6zM510 423h14v1h-14zM524 424h166v1h-166z"/>
<path fill="#808000" d="M2 1h1v7h-1zM3 8h1v9h-1zM4 17h1v11h-1zM5 28h1v16h-1zM6 44h1v19h-1zM7 63h1v16h-1zM8 79h1v9h-1zM9 88h1v6h-1zM10 94h1v6h-1zM11 100h1v7h-1zM12 107h1v7h-1zM13 114h1v5h-1zM14 119h1v4h-1zM15 123h1v5h-1zM16 128h1v5h-1zM17 133h1v4h-1zM18 137h1v5h-1zM19 142h1v4h-1zM20 146h1v4h-1zM21 150h1v4h-1zM22 154h1v4h-1zM23 158h1v4h-1zM24 162h1v3h-1zM25 165h1v4h-1zM26 169h1v4h-1zM27 173h1v4h-1zM28 177h1v4h-1zM29 181h1v4h-1zM30 185h1v4h-1zM31 189h1v2h-1zM32 191h1v2h-1zM33 193h1v2h-1zM34 195h1v3h-1zM35 198h1v2h-1zM36 200h1v2h-1zM37 202h1v2h-1zM38 204h1v2h-1zM39 206h1v1h-1zM40 207h1v2h-1zM41 209h1v1h-1zM42 210h1v1h-1zM43 211h1v1h-1zM44 212h1v1h-1zM45 213h1v1h-1zM46 214h1v1h-1zM47 215h1v2h-1zM48 217h1v1h-1zM49 218h1v2h-1zM50 220h1v3h-1zM51 223h1v4h-1zM52 227h1v3h-1zM53 230h1v2h-1zM54 232h1v2h-1zM55 234h1v2h-1zM56 236h1v2h-1zM57 238h1v2h-1zM58 240h1v3h-1zM59 243h1v4h-1zM60 247h1v3h-1zM61 250h1v4h-1zM62 254h1v4h-1zM63 258h1v3h-1zM64 261h1v3h-1zM65 264h1v3h-1zM66 267h1v2h-1zM67 269h1v2h-1zM68 271h1v2h-1zM69 273h1v2h-1zM70 275h1v1h-1zM71 276h1v2h-1zM72 278h1v1h-1zM73 279h1v1h-1zM74 280h1v2h-1zM75 282h1v1h-1zM76 283h1v2h-1zM77 285h1v1h-1zM78 286h1v2h-1zM79 288h1v1h-1zM80 289h1v2h-1zM81 291h1v1h-1zM82 292h1v1h-1zM83 293h1v1h-1zM84 294h1v1h-1zM85 295h1v1h-1zM86 296h2v1h-2zM88 297h2v1h-2zM90 298h3v1h-3zM93 297h2v1h-2zM95 296h1v1h-1zM96 295h2v1h-2zM98 294h1v1h-1zM99 293h1v1h-1zM100 292h1v1h-1zM101 291h1v1h-1zM102 290h1v1h-1zM103 289h1v1h-1zM104 288h1v1h-1zM105 287h2v1h-2zM107 286h1v1h-1zM108 285h1v1h-1zM109 284h2v1h-2zM111 283h1v1h-1zM112 282h1v1h-1zM113 281h1v1h-1zM114 280h1v1h-1zM115 279h1v1h-1zM116 278h1v1h-1zM117 277h1v1h-1zM118 276h1v1h-1zM119 275h1v1h-1zM120 274h1v1h-1zM121 273h2v1h-2zM123 272h2v1h-2zM125 271h2v1h-2zM127 270h2v1h-2zM129 269h2v1h-2zM131 268h2v1h-2zM133 267h2v1h-2zM135 266h1v1h-1zM136 265h2v1h-2zM138 264h1v1h-1zM139 263h2v1h-2zM141 262h2v1h-2zM143 261h2v1h-2zM145 260h2v1h-2zM147 259h11v1h-11zM158 260h2v1h-2zM160 261h1v2h-1zM161 263h1v2h-1zM162 265h1v3h-1zM163 268h1v2h-1zM164 270h1v2h-1zM165 272h1v2h-1zM166 274h1v4h-1zM167 278h1v3h-1zM168 281h1v3h-1zM169 284h1v4h-1zM170 288h1v3h-1zM171 291h1v5h-1zM172 296h1v6h-1zM173 302h1v4h-1zM174 306h1v3h-1zM175 309h1v3h-1zM176 312h1v3h-1zM177 315h1v3h-1zM178 318h1v3h-1zM179 321h1v2h-1zM180 323h1v2h-1zM181 325h1v1h-1zM182 326h1v2h-1zM183 328h1v1h-1zM184 329h1v1h-1zM185 330h1v2h-1zM186 332h2v1h-2zM188 333h2v1h-2zM190 334h10v1h-10zM200 333h2v1h-2zM202 332h3v1h-3zM205 331h3v1h-3zM208 330h4v1h-4zM212 329h5v1h-5zM217 328h19v1h-19zM236 329h11v1h-11zM247 330h8v1h-8zM255 331h12v1h-12zM267 330h4v1h-4zM271 329h24v1h-24zM295 330h6v1h-6zM301 331h13v1h-13zM314 330h1v1h-1zM315 329h2v1h-2zM317 328h2v1h-2zM319 327h4v1h-4zM323 326h2v1h-2zM325 325h2v1h-2zM327 324h1v1h-1zM328 323h1v1h-1zM329 322h2v1h-2zM331 321h1v1h-1zM332 319h1v2h-1zM333 318h1v1h-1zM334 317h1v1h-1zM335 315h1v2h-1zM336 314h1v1h-1zM337 313h1v1h-1zM338 312h1v1h-1zM339 311h1v1h-1zM340 310h1v1h-1zM341 309h1v1h-1zM342 308h1v1h-1zM343 307h1v1h-1zM344 306h1v1h-1zM345 305h2v1h-2zM347 304h1v1h-1zM348 303h1v1h-1zM349 302h1v1h-1zM350 301h1v1h-1zM351 300h1v1h-1zM352 299h1v1h-1zM353 298h1v1h-1zM354 297h1v1h-1zM355 296h1v1h-1zM356 294h1v2h-1zM357 293h1v1h-1zM358 292h1v1h-1zM359 291h1v1h-1zM360 290h2v1h-2zM362 289h1v1h-1zM363 288h1v1h-1zM364 287h2v1h-2zM366 286h1v1h-1zM367 285h1v1h-1zM368 284h2v1h-2zM370 283h1v1h-1zM371 282h1v1h-1zM372 281h1v1h-1zM373 280h1v1h-1zM374 279h2v1h-2zM376 278h3v1h-3zM379 277h13v1h-13zM392 278h4v1h-4zM396 279h2v1h-2zM398 280h2v1h-2zM400 281h2v1h-2zM402 282h1v1h-1zM403 283h2v1h-2zM405 284h2v1h-2zM407 285h1v1h-1zM408 286h1v1h-1zM409 287h1v1h-1zM410 288h1v1h-1zM411 289h1v1h-1zM412 290h1v1h-1zM413 291h1v1h-1zM414 292h1v2h-1zM415 294h1v2h-1zM416 296h1v2h-1zM417 298h1v1h-1zM418 299h1v1h-1zM419 300h1v1h-1zM420 301h1v1h-1zM421 302h1v2h-1zM422 304h1v2h-1zM423 306h1v2h-1zM424 308h1v2h-1zM425 310h1v3h-1zM426 313h1v2h-1zM427 315h1v2h-1zM428 317h1v3h-1zM429 320h1v2h-1zM430 322h1v2h-1zM431 324h1v2h-1zM432 326h1v2h-1zM433 328h1v2h-1zM434 330h1v2h-1zM435 332h1v3h-1zM436 335h1v3h-1zM437 338h1v3h-1zM438 341h1v3h-1zM439 344h1v3h-1zM440 347h1v3h-1zM441 350h1v2h-1zM442 352h1v2h-1zM443 354h1v2h-1zM444 356h1v2h-1zM445 358h1v2h-1zM446 360h1v3h-1zM447 363h1v2h-1zM448 365h1v3h-1zM449 368h1v2h-1zM450 370h1v2h-1zM451 372h1v3h-1zM452 375h1v3h-1zM453 378h1v2h-1zM454 380h1v2h-1zM455 382h1v2h-1zM456 384h1v1h-1zM457 385h1v2h-1zM458 387h1v2h-1zM459 389h1v2h-1zM460 391h1v2h-1zM461 393h1v1h-1zM462 394h1v1h-1zM463 395h1v2h-1zM464 397h1v1h-1zM465 398h1v1h-1zM466 399h1v1h-1zM467 400h1v2h-1zM468 402h1v2h-1zM469 404h1v1h-1zM470 405h2v1h-2zM472 406h1v1h-1zM473 407h1v1h-1zM474 408h1v1h-1zM475 409h1v1h-1zM476 410h1v1h-1zM477 411h2v1h-2zM479 412h1v1h-1zM480 413h1v1h-1zM481 414h2v1h-2zM483 415h1v1h-1zM484 416h2v1h-2zM486 417h2v1h-2zM488 418h2v1h-2zM490 419h2v1h-2zM492 420h2v1h-2zM494 421h5v1h-5zM499 422h2v1h-2zM501 423h7v1h-7zM508 424h7v1h-7zM515 425h52v1h-52zM567 426h2v1h-2zM569 425h5v1h-5zM574 426h116v1h-116z"/>
<path fill="#ff0000" d="M0 75h1v5h-1zM1 66h1v9h-1zM2 60h1v6h-1zM3 65h1v4h-1zM4 69h1v5h-1zM5 74h1v4h-1zM6 78h1v3h-1zM7 81h1v4h-1zM8 85h1v5h-1zM9 90h1v5h-1zM10 95h1v5h-1zM11 100h1v5h-1zM12 105h1v5h-1zM13 110h1v7h-1zM14 117h1v7h-1zM15 124h1v6h-1zM16 130h1v6h-1zM17 136h1v6h-1zM18 142h1v5h-1zM19 147h1v5h-1zM20 152h1v5h-1zM21 157h1v6h-1zM22 163h1v6h-1zM23 169h1v7h-1zM24 176h1v6h-1zM25 182h1v5h-1zM26 187h1v4h-1zM27 191h1v4h-1zM28 195h1v4h-1zM29 199h1v7h-1zM30 206h1v7h-1zM31 213h1v4h-1zM32 217h1v4h-1zM33 221h1v3h-1zM34 224h1v4h-1zM35 228h1v3h-1zM36 231h1v3h-1zM37 234h1v2h-1zM38 236h1v2h-1zM39 238h1v1h-1zM40 239h2v1h-2zM42 240h2v1h-2zM44 241h2v1h-2zM46 242h2v1h-2zM48 243h1v1h-1zM49 244h1v1h-1zM50 245h2v1h-2zM52 246h1v1h-1zM53 247h1v1h-1zM54 248h2v1h-2zM56 249h1v1h-1zM57 250h1v2h-1zM58 252h1v2h-1zM59 254h1v2h-1zM60 256h1v2h-1zM61 258h1v1h-1zM62 259h1v1h-1zM63 260h1v1h-1zM64 261h1v2h-1zM65 263h1v1h-1zM66 264h1v1h-1zM67 265h1v2h-1zM68 267h1v1h-1zM69 268h1v2h-1zM70 270h1v1h-1zM71 271h1v2h-1zM72 273h1v1h-1zM73 274h1v2h-1zM74 276h1v1h-1zM75 277h1v1h-1zM76 278h1v2h-1zM77 280h1v1h-1zM78 281h1v1h-1zM79 282h1v1h-1zM80 283h1v2h-1zM81 285h1v2h-1zM82 287h1v2h-1zM83 289h2v1h-2zM85 290h2v1h-2zM87 291h1v1h-1zM88 292h2v1h-2zM90 293h2v1h-2zM92 294h2v1h-2zM94 293h2v1h-2zM96 292h1v1h-1zM97 290h1v2h-1zM98 289h3v1h-3zM101 288h2v1h-2zM103 287h1v1h-1zM104 285h1v2h-1zM105 284h1v1h-1zM106 283h3v1h-3zM109 282h4v1h-4zM113 281h3v1h-3zM116 280h2v1h-2zM118 279h2v1h-2zM120 278h2v1h-2zM122 277h2v1h-2zM124 276h3v1h-3zM127 275h2v1h-2zM129 274h2v1h-2zM131 273h1v1h-1zM132 272h2v1h-2zM134 271h1v1h-1zM135 270h1v1h-1zM136 269h1v1h-1zM137 267h1v2h-1zM138 266h1v1h-1zM139 265h1v1h-1zM140 264h1v1h-1zM141 262h1v2h-1zM142 261h1v1h-1zM143 260h1v1h-1zM144 259h1v1h-1zM145 258h1v1h-1zM146 257h1v1h-1zM147 256h1v1h-1zM148 255h1v1h-1zM149 254h1v1h-1zM150 253h2v1h-2zM152 252h7v1h-7zM159 253h2v1h-2zM161 254h1v2h-1zM162 256h1v2h-1zM163 258h1v2h-1zM164 260h1v3h-1zM165 263h1v4h-1zM166 267h1v4h-1zM167 271h1v3h-1zM168 274h1v4h-1zM169 278h1v4h-1zM170 282h1v4h-1zM171 286h1v7h-1zM172 293h1v7h-1zM173 300h1v4h-1zM174 304h1v4h-1zM175 308h1v7h-1zM176 315h1v7h-1zM177 322h1v4h-1zM178 326h1v5h-1zM179 331h1v4h-1zM180 335h1v2h-1zM181 337h1v2h-1zM182 339h1v2h-1zM183 341h1v2h-1zM184 343h1v1h-1zM185 344h1v1h-1zM186 345h1v2h-1zM187 347h1v1h-1zM188 348h12v1h-12zM200 347h2v1h-2zM202 346h2v1h-2zM204 345h2v1h-2zM206 344h1v1h-1zM207 343h2v1h-2zM209 342h1v1h-1zM210 341h2v1h-2zM212 340h2v1h-2zM214 339h2v1h-2zM216 338h3v1h-3zM219 337h4v1h-4zM223 336h6v1h-6zM229 335h5v1h-5zM234 334h6v1h-6zM240 333h5v1h-5zM245 332h5v1h-5zM250 331h4v1h-4zM254 330h2v1h-2zM256 329h2v1h-2zM258 328h2v1h-2zM260 327h3v1h-3zM263 326h2v1h-2zM265 325h2v1h-2zM267 324h2v1h-2zM269 323h2v1h-2zM271 322h2v1h-2zM273 321h2v1h-2zM275 320h3v1h-3zM278 319h6v1h-6zM284 318h25v1h-25zM309 317h2v1h-2zM311 316h3v1h-3zM314 315h2v1h-2zM316 314h1v1h-1zM317 313h2v1h-2zM319 312h1v1h-1zM320 311h1v1h-1zM321 310h1v1h-1zM322 309h1v1h-1zM323 307h1v2h-1zM324 306h1v1h-1zM325 305h1v1h-1zM326 304h1v1h-1zM327 302h1v2h-1zM328 301h1v1h-1zM329 300h1v1h-1zM330 298h1v2h-1zM331 296h1v2h-1zM332 294h1v2h-1zM333 292h1v2h-1zM334 290h1v2h-1zM335 289h1v1h-1zM336 287h1v2h-1zM337 286h1v1h-1zM338 285h1v1h-1zM339 283h1v2h-1zM340 281h1v2h-1zM341 279h1v2h-1zM342 276h1v3h-1zM343 274h1v2h-1zM344 271h1v3h-1zM345 269h1v2h-1zM346 267h1v2h-1zM347 265h1v2h-1zM348 264h1v1h-1zM349 263h1v1h-1zM350 261h1v2h-1zM351 260h1v1h-1zM352 258h1v2h-1zM353 256h1v2h-1zM354 254h1v2h-1zM355 252h1v2h-1zM356 251h1v1h-1zM357 249h1v2h-1zM358 247h1v2h-1zM359 246h1v1h-1zM360 244h1v2h-1zM361 243h1v1h-1zM362 241h1v2h-1zM363 240h1v1h-1zM364 238h1v2h-1zM365 237h1v1h-1zM366 235h1v2h-1zM367 233h1v2h-1zM368 231h1v2h-1zM369 230h1v1h-1zM370 228h1v2h-1zM371 227h1v1h-1zM372 225h1v2h-1zM373 224h1v1h-1zM374 223h2v1h-2zM376 222h1v1h-1zM377 221h1v1h-1zM378 220h2v1h-2zM380 219h2v1h-2zM382 218h3v1h-3zM385 217h9v1h-9zM394 218h2v1h-2zM396 219h2v1h-2zM398 220h2v1h-2zM400 221h2v1h-2zM402 222h1v1h-1zM403 223h1v1h-1zM404 224h1v1h-1zM405 225h1v1h-1zM406 226h1v1h-1zM407 227h1v1h-1zM408 228h1v1h-1zM409 229h1v1h-1zM410 230h1v1h-1zM411 231h1v1h-1zM412 232h1v1h-1zM413 233h1v2h-1zM414 235h1v2h-1zM415 237h1v2h-1zM416 239h1v2h-1zM417 241h1v2h-1zM418 243h1v2h-1zM419 245h1v2h-1zM420 247h1v2h-1zM421 249h1v2h-1zM422 251h1v2h-1zM423 253h1v3h-1zM424 256h1v3h-1zM425 259h1v2h-1zM426 261h1v3h-1zM427 264h1v3h-1zM428 267h1v2h-1zM429 269h1v4h-1zM430 273h1v4h-1zM431 277h1v4h-1zM432 281h1v3h-1zM433 284h1v2h-1zM434 286h1v3h-1zM435 289h1v4h-1zM436 293h1v3h-1zM437 296h1v3h-1zM438 299h1v4h-1zM439 303h1v3h-1zM440 306h1v3h-1zM441 309h1v4h-1zM442 313h1v4h-1zM443 317h1v4h-1zM444 321h1v4h-1zM445 325h1v4h-1zM446 329h1v4h-1zM447 333h1v4h-1zM448 337h1v3h-1zM449 340h1v3h-1zM450 343h1v2h-1zM451 345h1v3h-1zM452 348h1v5h-1zM453 353h1v4h-1zM454 357h1v3h-1zM455 360h1v3h-1zM456 363h1v2h-1zM457 365h1v2h-1zM458 367h1v2h-1zM459 369h1v2h-1zM460 371h1v2h-1zM461 373h1v2h-1zM462 375h1v3h-1zM463 378h1v3h-1zM464 381h1v3h-1zM465 384h1v2h-1zM466 386h1v2h-1zM467 388h1v2h-1zM468 390h1v2h-1zM469 392h1v2h-1zM470 394h1v2h-1zM471 396h1v1h-1zM472 397h1v1h-1zM473 398h1v1h-1zM474 399h1v1h-1zM475 400h1v2h-1zM476 402h1v1h-1zM477 403h1v1h-1zM478 404h1v1h-1zM479 405h1v1h-1zM480 406h1v1h-1zM481 407h1v1h-1zM482 408h1v1h-1zM483 409h2v1h-2zM485 410h1v1h-1zM486 411h1v1h-1zM487 412h2v1h-2zM489 413h1v1h-1zM490 414h2v1h-2zM492 415h2v1h-2zM494 416h3v1h-3zM497 417h2v1h-2zM499 418h2v1h-2zM501 419h5v1h-5zM506 420h5v1h-5zM511 421h9v1h-9zM520 422h9v1h-9zM529 423h18v1h-18zM547 424h25v1h-25zM572 425h48v1h-48zM620 426h70v1h-70z"/>
</g>
<text class="tk" text-anchor="end" transform="translate(201.4,63.3) scale(1.063,1.0)">1,0</text>
<text class="tk" text-anchor="end" transform="translate(201.4,275.7) scale(1.063,1.0)">0,8</text>
<text class="tk" text-anchor="end" transform="translate(201.4,490.5) scale(1.063,1.0)">0,6</text>
<text class="tk" text-anchor="end" transform="translate(201.4,702.9) scale(1.063,1.0)">0,4</text>
<text class="tk" text-anchor="end" transform="translate(201.4,915.2) scale(1.063,1.0)">0,2</text>
<text class="tk" text-anchor="end" transform="translate(201.4,1130.1) scale(1.063,1.0)">0,0</text>
<text class="tkx" text-anchor="middle" transform="translate(236.4,1249.9) scale(1.063,1.0)">200</text>
<text class="tkx" text-anchor="middle" transform="translate(865.6,1249.9) scale(1.063,1.0)">300</text>
<text class="tkx" text-anchor="middle" transform="translate(1494.7,1249.9) scale(1.063,1.0)">400</text>
<text class="tkx" text-anchor="middle" transform="translate(2123.9,1249.9) scale(1.063,1.0)">500</text>
<text class="lab" text-anchor="middle" transform="translate(1180.4,1318) scale(1.0,1.0)">Wavelength (nm)</text>
<text class="abs" text-anchor="middle" transform="translate(58,604.5) rotate(-90) scale(0.967,1.075)">Abs</text>
<text class="ser" text-anchor="middle" transform="translate(1246.5,559) scale(1.05,1.0)">a</text>
<text class="ser" text-anchor="middle" transform="translate(1248.4,1025) scale(1.0,1.0)">b</text>
</svg>
</body>
</html>
